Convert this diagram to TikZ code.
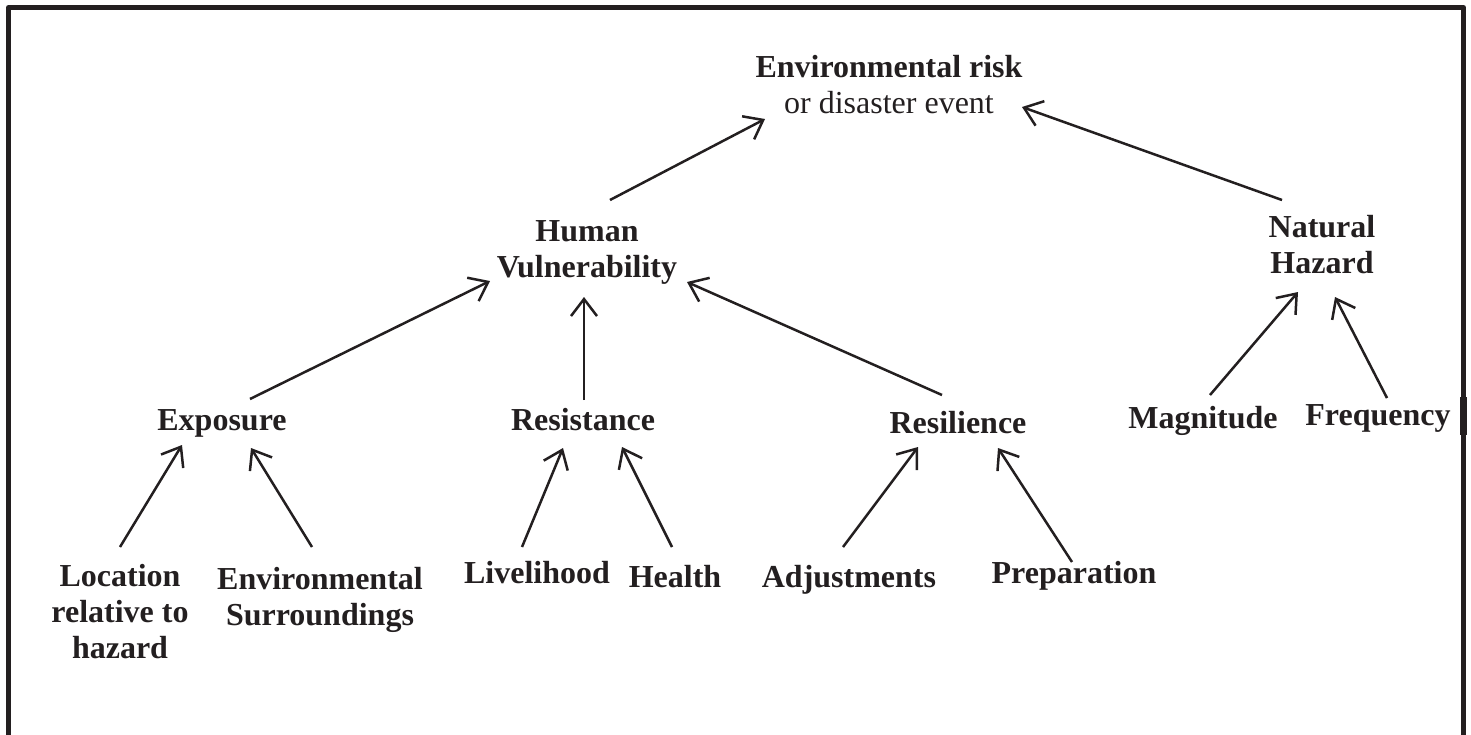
\documentclass[tikz,border=0pt]{standalone}
\usepackage{fontspec}
\setmainfont{Liberation Serif}
\usetikzlibrary{arrows.meta}
\definecolor{ink}{RGB}{35,31,32}
\begin{document}
\begin{tikzpicture}[x=1pt,y=-1pt,
  lbl/.style={font=\fontsize{32}{36}\selectfont\bfseries, text=ink, inner sep=0pt, anchor=base, align=center},
  toplbl/.style={font=\fontsize{32}{36}\selectfont, text=ink, inner sep=0pt, anchor=base, align=center},
  link/.style={draw=ink, line width=2.5pt, -{Straight Barb[length=17pt,width=26pt]}},
  frame/.style={draw=ink, line width=5pt, line join=round}]
\useasboundingbox (0,0) rectangle (1471,734);
\draw[frame] (8.5,740) -- (8.5,7.5) -- (1463.5,7.5) -- (1463.5,740);
\fill[ink] (1460,397) rectangle (1467,435);

% base anchor of a multi-line node = baseline of its last line
\node[toplbl] (env) at (889,113) {\textbf{Environmental risk}\\or disaster event};
\node[lbl] (hv) at (587,277) {Human\\Vulnerability};
\node[lbl] (nh) at (1322,273) {Natural\\Hazard};
\node[lbl] (exp) at (222,430) {Exposure};
\node[lbl] (res) at (583,430) {Resistance};
\node[lbl] (resil) at (958,433) {Resilience};
\node[lbl] (mag) at (1203,428) {Magnitude};
\node[lbl] (freq) at (1378,425) {Frequency};
\node[lbl] (loc) at (120,658) {Location\\relative to\\hazard};
\node[lbl] (envs) at (320,625) {Environmental\\Surroundings};
\node[lbl] (live) at (537,583) {Livelihood};
\node[lbl] (health) at (675,587) {Health};
\node[lbl] (adj) at (849,587) {Adjustments};
\node[lbl] (prep) at (1074,583) {Preparation};

\draw[link] ([shift={(23,-77)}]hv.base) -- ([shift={(-124,6)}]env.base);
\draw[link] ([shift={(-40,-73)}]nh.base) -- ([shift={(133,-6)}]env.base);
\draw[link] ([shift={(28,-31)}]exp.base) -- ([shift={(-97,4)}]hv.base);
\draw[link] ([shift={(1,-30)}]res.base) -- ([shift={(-3,20)}]hv.base);
\draw[link] ([shift={(-16,-38)}]resil.base) -- ([shift={(100,5)}]hv.base);
\draw[link] ([shift={(0,-111)}]loc.base) -- ([shift={(-40,15)}]exp.base);
\draw[link] ([shift={(-8,-78)}]envs.base) -- ([shift={(29,18)}]exp.base);
\draw[link] ([shift={(-15,-36)}]live.base) -- ([shift={(-20,18)}]res.base);
\draw[link] ([shift={(-3,-40)}]health.base) -- ([shift={(39,17)}]res.base);
\draw[link] ([shift={(-6,-40)}]adj.base) -- ([shift={(-40,14)}]resil.base);
\draw[link] ([shift={(-2,-21)}]prep.base) -- ([shift={(40,15)}]resil.base);
\draw[link] ([shift={(7,-33)}]mag.base) -- ([shift={(-24,19)}]nh.base);
\draw[link] ([shift={(9,-27)}]freq.base) -- ([shift={(13,24)}]nh.base);
\end{tikzpicture}
\end{document}
